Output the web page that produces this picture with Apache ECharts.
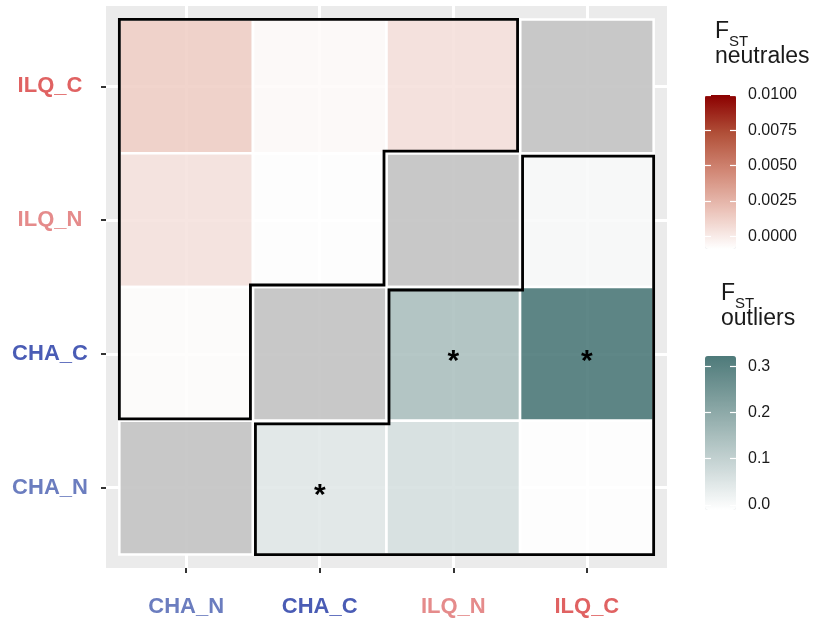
<!DOCTYPE html>
<html><head><meta charset="utf-8">
<script src="https://cdn.jsdelivr.net/npm/echarts@6/dist/echarts.min.js"></script>
<style>html,body{margin:0;padding:0;background:#fff}#c{width:815px;height:619px}</style>
</head><body><div id="c"></div>
<script>
// ---------------- data ----------------
const xCategories = ['CHA_N', 'CHA_C', 'ILQ_N', 'ILQ_C'];
const yCategories = ['CHA_N', 'CHA_C', 'ILQ_N', 'ILQ_C']; // bottom -> top
const categoryColors = ['#6B7DBF', '#4A5CB5', '#E58B8B', '#E06262'];
// [xIndex, yIndex, FST]
const neutralCells = [[0, 3, 0.0013], [1, 3, -0.0007], [2, 3, 0.0005], [0, 2, 0.0004], [1, 2, -0.0009], [0, 1, -0.0008]];
const outlierCells = [[3, 2, 0.002], [2, 1, 0.141], [3, 1, 0.322], [1, 0, 0.043], [2, 0, 0.063], [3, 0, -0.011]];
const diagonalCells = [[0, 0], [1, 1], [2, 2], [3, 3]];
const significantCells = [[2, 1], [3, 1], [1, 0]];
const neutralRange = [-0.0009, 0.0100];
const outlierRange = [-0.011, 0.322];
const neutralTicks = [0, 0.0025, 0.005, 0.0075, 0.01];
const outlierTicks = [0, 0.1, 0.2, 0.3];
const neutralOutline = [[-0.5, 3.5], [2.5, 3.5], [2.5, 2.5], [1.5, 2.5], [1.5, 1.5], [0.5, 1.5], [0.5, 0.5], [-0.5, 0.5]];
const outlierOutline = [[2.5, 2.5], [3.5, 2.5], [3.5, -0.5], [0.5, -0.5], [0.5, 0.5], [1.5, 0.5], [1.5, 1.5], [2.5, 1.5]];
const catTicks = [0, 1, 2, 3];

// ---------------- styles ----------------
const FONT = '"Liberation Sans", Arial, Helvetica, sans-serif';
const redStops = ['#FFFFFF', '#EBC3B9', '#D28977', '#B15039', '#8B0000'];
const tealStops = ['#FFFFFF', '#D1DCDC', '#A5BBBA', '#799A99', '#4E7A7A'];
const richCats = {};
categoryColors.forEach((c, i) => { richCats['c' + i] = { color: c, fontWeight: 'bold', fontSize: 22, fontFamily: FONT }; });
const catFormatter = v => { const i = Math.round(v); return '{c' + i + '|' + xCategories[i] + '}'; };
const catFormatterY = v => { const i = Math.round(v); return '{c' + i + '|' + yCategories[i] + '}'; };

function tileRender(params, api) {
  const c = api.coord([api.value(0), api.value(1)]);
  const s = api.size([1, 1]);
  const col = api.visual('color');
  return { type: 'rect', shape: { x: c[0] - s[0] / 2, y: c[1] - s[1] / 2, width: s[0], height: s[1] },
    style: { fill: echarts.color.modifyAlpha(col, 0.9), stroke: '#fff', lineWidth: 2.5 } };
}
function diagRender(params, api) {
  const c = api.coord([api.value(0), api.value(1)]);
  const s = api.size([1, 1]);
  return { type: 'rect', shape: { x: c[0] - s[0] / 2, y: c[1] - s[1] / 2, width: s[0], height: s[1] },
    style: { fill: 'rgba(196,196,196,0.92)', stroke: '#fff', lineWidth: 2.5 } };
}
function starRender(params, api) {
  const c = api.coord([api.value(0), api.value(1)]);
  return { type: 'text', x: c[0], y: c[1] + 8,
    style: { text: '*', fill: '#000', fontSize: 30, fontWeight: 'bold', fontFamily: FONT, align: 'center', verticalAlign: 'middle' } };
}
function outlineRender(pts, dx, dy, outerX, outerY) {
  return function (params, api) {
    const points = pts.map(p => {
      const q = api.coord(p);
      return [q[0] + (p[0] === outerX ? 0 : dx), q[1] + (p[1] === outerY ? 0 : dy)];
    });
    return { type: 'polygon', shape: { points }, style: { fill: 'none', stroke: '#000', lineWidth: 2.8, lineJoin: 'miter' } };
  };
}

const legendAxisCommon = {
  type: 'value', axisLine: { show: false, onZero: false }, splitLine: { show: false }, z: 10
};

const option = {
  backgroundColor: '#fff',
  animation: false,
  grid: [
    { left: 106, right: 148, top: 6, bottom: 51, show: true, backgroundColor: '#EBEBEB', borderWidth: 0, containLabel: false, outerBoundsMode: 'none' },
    { left: 705, top: 95, width: 31, height: 154, containLabel: false, outerBoundsMode: 'none' },
    { left: 705, top: 356, width: 31, height: 154, containLabel: false, outerBoundsMode: 'none' }
  ],
  xAxis: [
    { type: 'value', gridIndex: 0, min: -0.6, max: 3.6, position: 'bottom',
      axisLine: { show: false, onZero: false },
      splitLine: { show: true, lineStyle: { color: '#fff', width: 3 } },
      axisTick: { show: true, customValues: catTicks, length: 5, lineStyle: { color: '#333', width: 2 } },
      axisLabel: { customValues: catTicks, formatter: catFormatter, rich: richCats, margin: 28 } },
    { type: 'value', gridIndex: 1, show: false },
    { type: 'value', gridIndex: 2, show: false }
  ],
  yAxis: [
    { type: 'value', gridIndex: 0, min: -0.6, max: 3.6, position: 'left',
      axisLine: { show: false, onZero: false },
      splitLine: { show: true, lineStyle: { color: '#fff', width: 3 } },
      axisTick: { show: true, customValues: catTicks, length: 5, lineStyle: { color: '#333', width: 2 } },
      axisLabel: { customValues: catTicks, formatter: catFormatterY, rich: richCats, margin: 56, align: 'center' } },
    Object.assign({}, legendAxisCommon, { gridIndex: 1, position: 'right', min: neutralRange[0], max: neutralRange[1],
      axisTick: { show: true, inside: true, customValues: neutralTicks, length: 6, lineStyle: { color: '#fff', width: 1.2 } },
      axisLabel: { customValues: neutralTicks, formatter: v => v.toFixed(4), margin: 12, fontSize: 16, color: '#1a1a1a', fontFamily: FONT } }),
    Object.assign({}, legendAxisCommon, { gridIndex: 1, position: 'left', min: neutralRange[0], max: neutralRange[1],
      axisTick: { show: true, inside: true, customValues: neutralTicks, length: 6, lineStyle: { color: '#fff', width: 1.2 } },
      axisLabel: { show: false } }),
    Object.assign({}, legendAxisCommon, { gridIndex: 2, position: 'right', min: outlierRange[0], max: outlierRange[1],
      axisTick: { show: true, inside: true, customValues: outlierTicks, length: 6, lineStyle: { color: '#fff', width: 1.2 } },
      axisLabel: { customValues: outlierTicks, formatter: v => v.toFixed(1), margin: 12, fontSize: 16, color: '#1a1a1a', fontFamily: FONT } }),
    Object.assign({}, legendAxisCommon, { gridIndex: 2, position: 'left', min: outlierRange[0], max: outlierRange[1],
      axisTick: { show: true, inside: true, customValues: outlierTicks, length: 6, lineStyle: { color: '#fff', width: 1.2 } },
      axisLabel: { show: false } })
  ],
  visualMap: [
    { type: 'continuous', seriesIndex: 1, dimension: 2, min: neutralRange[0], max: neutralRange[1],
      inRange: { color: redStops }, left: 705, top: 95, itemWidth: 31, itemHeight: 154, calculable: false,
      padding: 0, hoverLink: false, text: null },
    { type: 'continuous', seriesIndex: 2, dimension: 2, min: outlierRange[0], max: outlierRange[1],
      inRange: { color: tealStops }, left: 705, top: 356, itemWidth: 31, itemHeight: 154, calculable: false,
      padding: 0, hoverLink: false, text: null }
  ],
  graphic: [
    { type: 'text', left: 715, top: 20, style: { text: 'F', fontSize: 23, fontFamily: FONT, fill: '#1a1a1a' } },
    { type: 'text', left: 729, top: 34, style: { text: 'ST', fontSize: 15, fontFamily: FONT, fill: '#1a1a1a' } },
    { type: 'text', left: 715, top: 45, style: { text: 'neutrales', fontSize: 23, fontFamily: FONT, fill: '#1a1a1a' } },
    { type: 'text', left: 721, top: 282, style: { text: 'F', fontSize: 23, fontFamily: FONT, fill: '#1a1a1a' } },
    { type: 'text', left: 735, top: 296, style: { text: 'ST', fontSize: 15, fontFamily: FONT, fill: '#1a1a1a' } },
    { type: 'text', left: 721, top: 307, style: { text: 'outliers', fontSize: 23, fontFamily: FONT, fill: '#1a1a1a' } }
  ],
  series: [
    { type: 'custom', xAxisIndex: 0, yAxisIndex: 0, renderItem: diagRender, data: diagonalCells, encode: { x: 0, y: 1 }, silent: true },
    { type: 'custom', xAxisIndex: 0, yAxisIndex: 0, renderItem: tileRender, data: neutralCells, encode: { x: 0, y: 1 }, silent: true },
    { type: 'custom', xAxisIndex: 0, yAxisIndex: 0, renderItem: tileRender, data: outlierCells, encode: { x: 0, y: 1 }, silent: true },
    { type: 'custom', xAxisIndex: 0, yAxisIndex: 0, renderItem: outlineRender(neutralOutline, -2.5, -2, -0.5, 3.5), data: [[0, 0]], encode: { x: 0, y: 1 }, silent: true, z: 5 },
    { type: 'custom', xAxisIndex: 0, yAxisIndex: 0, renderItem: outlineRender(outlierOutline, 2.5, 3, 3.5, -0.5), data: [[0, 0]], encode: { x: 0, y: 1 }, silent: true, z: 5 },
    { type: 'custom', xAxisIndex: 0, yAxisIndex: 0, renderItem: starRender, data: significantCells, encode: { x: 0, y: 1 }, silent: true, z: 6 }
  ]
};
const chart = echarts.init(document.getElementById('c'), null, { renderer: 'canvas' });
chart.setOption(option);
</script>
</body></html>
